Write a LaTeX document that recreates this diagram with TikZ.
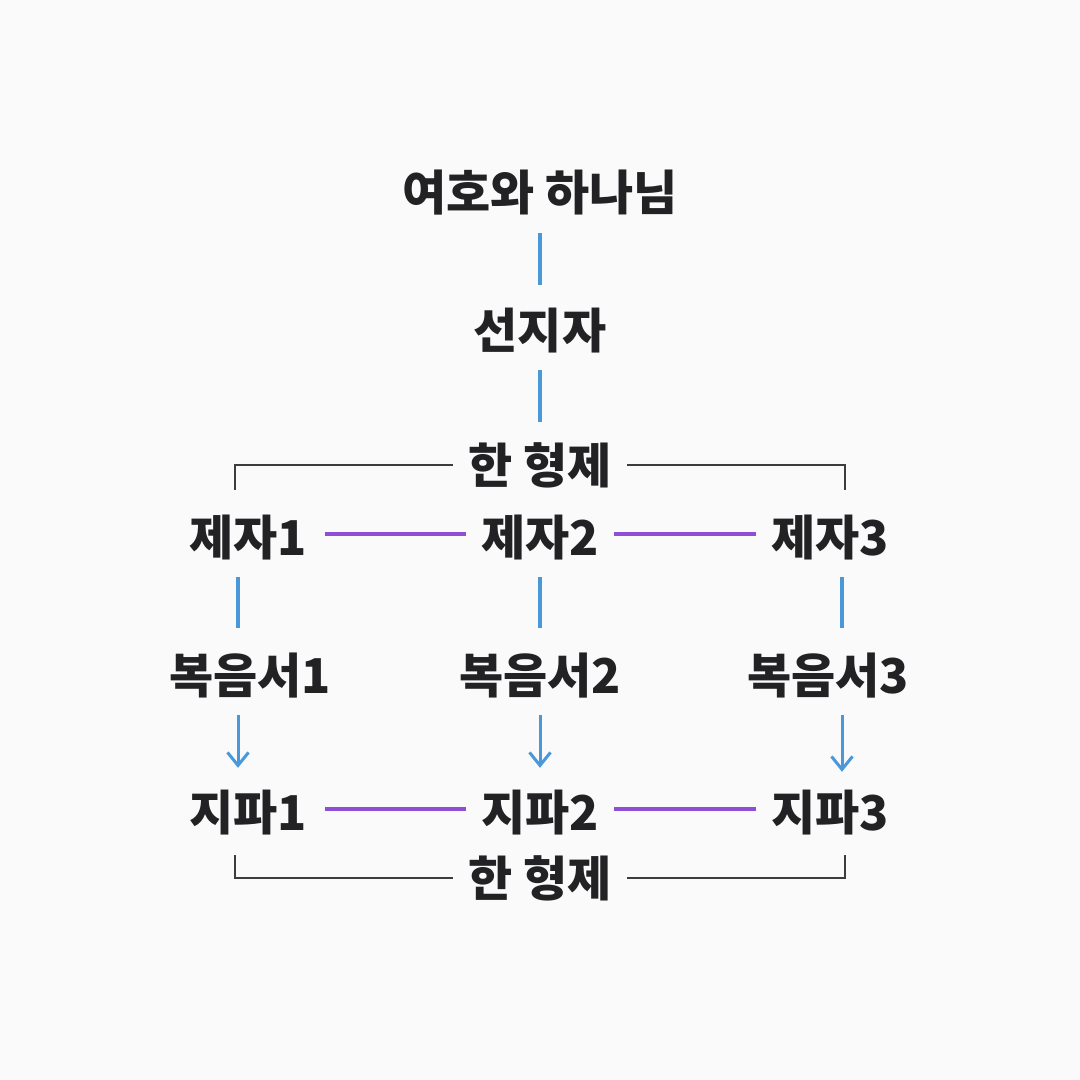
\documentclass[tikz,border=0pt]{standalone}
\usepackage{fontspec}
\setmainfont{Noto Sans CJK KR}
\usetikzlibrary{arrows.meta}
\definecolor{bg}{RGB}{250,250,251}
\definecolor{ink}{RGB}{34,34,36}
\definecolor{lblue}{RGB}{74,152,218}
\definecolor{lpurple}{RGB}{142,79,214}
\definecolor{lgray}{RGB}{60,60,62}
\tikzset{
  lbl/.style={font=\fontsize{48}{52}\selectfont\bfseries, text=ink, inner sep=0pt, text height=37pt, text depth=0pt},
  bline/.style={draw=lblue, line width=3.5pt},
  barrow/.style={draw=lblue, line width=3pt, -{Straight Barb[length=13pt,width=21pt,line width=3pt]}},
  pline/.style={draw=lpurple, line width=3.4pt},
  bracket/.style={draw=lgray, line width=1.5pt}
}
\begin{document}
\begin{tikzpicture}[x=1pt,y=-1pt]
\fill[bg] (0,0) rectangle (1080,1080);
\useasboundingbox (0,0) rectangle (1080,1080);
\node[lbl] (god) at (540,192) {여호와 하나님};
\node[lbl] (pro) at (540,330) {선지자};
\node[lbl] (h1) at (540,465) {한 형제};
\node[lbl] (j1) at (248,537) {제자1};
\node[lbl] (j2) at (540,537) {제자2};
\node[lbl] (j3) at (830,537) {제자3};
\node[lbl] (b1) at (250,675) {복음서1};
\node[lbl] (b2) at (540,675) {복음서2};
\node[lbl] (b3) at (828,675) {복음서3};
\node[lbl] (t1) at (248,812) {지파1};
\node[lbl] (t2) at (540,812) {지파2};
\node[lbl] (t3) at (830,812) {지파3};
\node[lbl] (h2) at (540,878) {한 형제};
% blue links
\draw[bline] ([yshift=-22.5pt]god.south) -- ([yshift=26.5pt]pro.north);
\draw[bline] ([yshift=-21.5pt]pro.south) -- ([yshift=24.5pt]h1.north);
\draw[bline] ([xshift=-10pt,yshift=-21.5pt]j1.south) -- ([xshift=-12pt,yshift=28.5pt]b1.north);
\draw[bline] ([yshift=-21.5pt]j2.south) -- ([yshift=28.5pt]b2.north);
\draw[bline] ([xshift=12pt,yshift=-21.5pt]j3.south) -- ([xshift=14pt,yshift=28.5pt]b3.north);
\draw[barrow] ([xshift=-12pt,yshift=-21.5pt]b1.south) -- ([xshift=-10pt,yshift=25.5pt]t1.north);
\draw[barrow] ([yshift=-21.5pt]b2.south) -- ([yshift=25.5pt]t2.north);
\draw[barrow] ([xshift=14pt,yshift=-21.5pt]b3.south) -- ([xshift=12pt,yshift=21.5pt]t3.north);
% purple links
\draw[pline] ([xshift=18pt,yshift=3pt]j1.east) -- ([xshift=-15pt,yshift=3pt]j2.west);
\draw[pline] ([xshift=15pt,yshift=3pt]j2.east) -- ([xshift=-15pt,yshift=3pt]j3.west);
\draw[pline] ([xshift=18pt,yshift=3pt]t1.east) -- ([xshift=-15pt,yshift=3pt]t2.west);
\draw[pline] ([xshift=15pt,yshift=3pt]t2.east) -- ([xshift=-15pt,yshift=3pt]t3.west);
% brackets
\draw[bracket] ([xshift=-15.5pt]h1.west) -| ([xshift=-13pt,yshift=28.5pt]j1.north);
\draw[bracket] ([xshift=15.5pt]h1.east) -| ([xshift=15pt,yshift=28.5pt]j3.north);
\draw[bracket] ([xshift=-15.5pt]h2.west) -| ([xshift=-13pt,yshift=-24.5pt]t1.south);
\draw[bracket] ([xshift=15.5pt]h2.east) -| ([xshift=15pt,yshift=-24.5pt]t3.south);
\end{tikzpicture}
\end{document}
